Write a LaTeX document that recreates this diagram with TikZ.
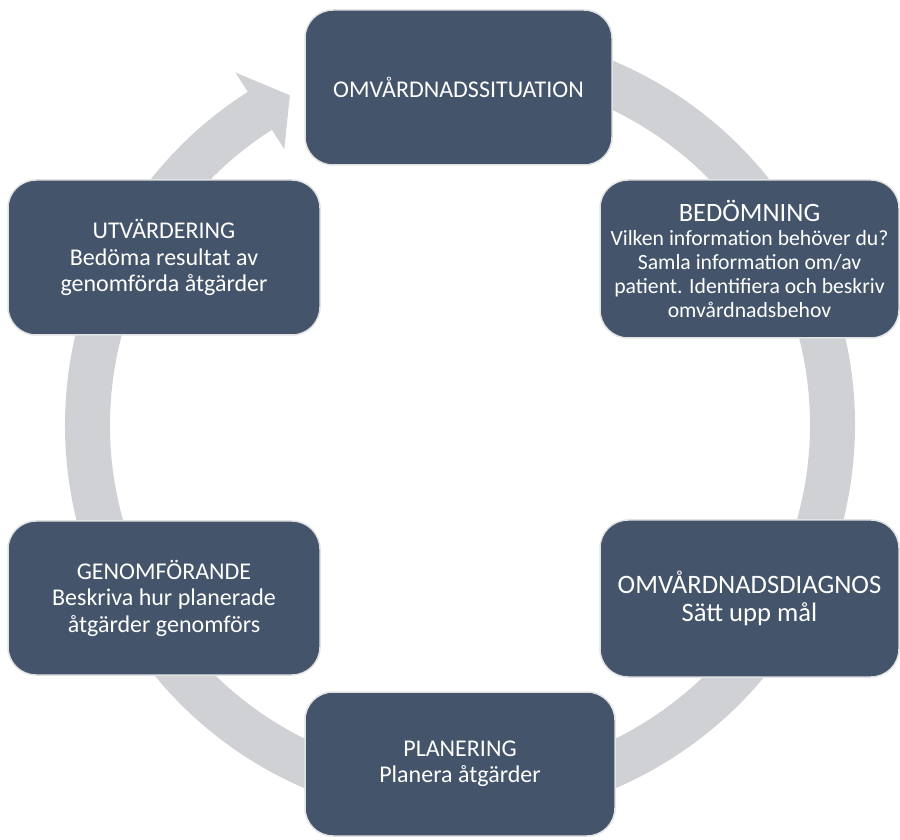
\documentclass[tikz,border=0pt]{standalone}
\usepackage{fontspec}
\setmainfont{Carlito}
\definecolor{boxfill}{RGB}{68,84,106}
\definecolor{boxline}{RGB}{226,226,228}
\definecolor{ringgrey}{RGB}{208,209,213}
\tikzset{
  stage/.style={fill=boxfill, draw=boxline, line width=1.5pt, rounded corners=28pt,
    text=white, align=center, inner sep=0pt, font=\fontsize{24}{26.5}\selectfont},
}
\begin{document}
\begin{tikzpicture}[x=1pt,y=1pt]
\useasboundingbox (0,0) rectangle (900,839);
% ring with arrow head
\begin{scope}[shift={(460,414)}]
\fill[ringgrey] (85:395) arc[start angle=85, end angle=-237.5, radius=395]
  -- (122.5:418) -- (117.3:371) -- (122.5:327) -- (122.5:350)
  arc[start angle=-237.5, end angle=85, radius=350] -- cycle;
\end{scope}
% stages
\node[stage, minimum width=307pt, minimum height=155pt] (sit) at (458.5,751.5) {OMVÅRDNADSSITUATION};
\node[stage, minimum width=299pt, minimum height=158pt, font=\fontsize{21.7}{24}\selectfont] (bed) at (749.5,580)
  {{\fontsize{26.5}{27}\selectfont BEDÖMNING}\\Vilken information behöver du?\\Samla information om/av\\patient. Identifiera och beskriv\\omvårdnadsbehov};
\node[stage, minimum width=299pt, minimum height=157pt, font=\fontsize{26.6}{28}\selectfont] (diag) at (749.5,240.5) {OMVÅRDNADSDIAGNOS\\Sätt upp mål};
\node[stage, minimum width=310pt, minimum height=144pt] (plan) at (460,75) {PLANERING\\Planera åtgärder};
\node[stage, minimum width=312pt, minimum height=154pt] (gen) at (164,241) {GENOMFÖRANDE\\Beskriva hur planerade\\åtgärder genomförs};
\node[stage, minimum width=312pt, minimum height=155pt] (utv) at (164,581.5) {UTVÄRDERING\\Bedöma resultat av\\genomförda åtgärder};
\end{tikzpicture}
\end{document}
